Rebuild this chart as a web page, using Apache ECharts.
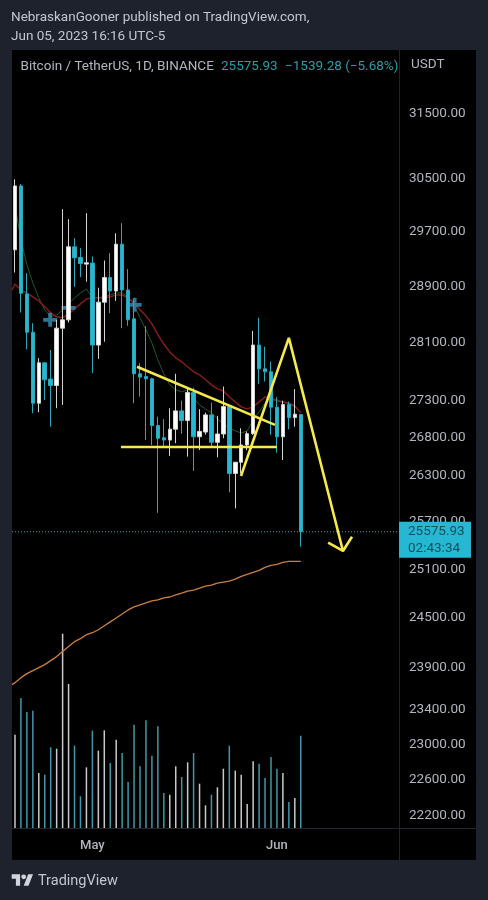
<!DOCTYPE html>
<html><head><meta charset="utf-8">
<style>html,body{margin:0;padding:0;background:#1e222d}#c{width:488px;height:900px}</style>
<script src="https://cdn.jsdelivr.net/npm/echarts@6/dist/echarts.min.js"></script>
</head><body><div id="c"></div>
<script>
const TICKS=[31500,30500,29700,28900,28100,27300,26800,26300,25700,25100,24500,23900,23400,23000,22600,22200];
const opens=[29437,30390,28796,28252,27269,27824,27599,27511,28309,28427,29481,29325,29228,29243,28072,28678,29033,28839,29520,28853,28441,27672,27635,27603,26967,26804,26773,26919,27165,27034,27414,26817,26880,27111,26743,26854,27223,26331,26478,26707,26858,28072,27741,27700,27215,26817,27250,27075,27115.21];
const closes=[30390,28806,28252,27269,27824,27589,27511,28309,28427,29481,29320,29237,29247,28072,28678,29033,28839,29520,28853,28427,27672,27627,27603,26967,26796,26773,26919,27165,27034,27414,26817,26888,27111,26743,26854,27223,26331,26478,26707,26858,28072,27741,27700,27215,26817,27250,27075,27120,25575.93];
const lows=[29106,28531,28013,27134,27147,27313,26953,27201,27246,28389,28900,29039,28973,27682,27879,28119,28522,28697,28309,28342,27269,27359,26773,26707,25819,26694,26561,26730,26858,26552,26364,26641,26845,26685,26544,26796,26084,25876,26331,26641,26841,27534,27566,26841,26605,26508,26918,26953,25386];
const highs=[30491,30420,29097,28380,27889,27830,28003,28427,30041,29891,29608,29462,29981,29339,28886,29281,29389,29681,29831,29155,28711,27820,28337,27617,27088,27053,27201,27672,27304,27479,27479,27188,27142,27277,27098,27497,27223,26482,26931,26888,28270,28456,28049,27842,27352,27304,27291,27462,27124];
const volumes=[28000,39000,34800,35200,16500,16000,24200,23800,58300,43200,24700,9500,18200,29200,23200,29300,19500,26500,22500,13800,31000,18500,32300,21700,30500,10500,10000,18500,15300,19700,22500,13300,6800,10000,12200,17800,24700,17200,16000,7200,20000,19300,15000,21300,17800,16500,7800,9000,27700];
const volumeUp=[1,0,0,0,1,0,0,1,1,1,0,0,1,0,1,1,0,1,0,0,0,0,0,0,0,0,1,1,0,1,0,1,1,0,1,1,0,1,1,1,1,0,0,0,0,1,0,1,0];
const emaRed=[28939,28853,28811,28754,28697,28612,28527,28470,28456,28512,28583,28654,28725,28740,28740,28740,28754,28782,28782,28740,28668,28569,28484,28370,28214,28086,27976,27893,27838,27769,27700,27658,27589,27520,27466,27438,27355,27287,27219,27192,27219,27287,27355,27341,27300,27287,27273,27233,27138];
const emaGreen=[30105,29583,29218,28955,28740,28569,28470,28498,28569,28654,28740,28811,28867,28740,28740,28754,28782,28811,28811,28754,28640,28456,28285,28100,27865,27672,27520,27451,27424,27451,27341,27246,27192,27138,27057,26990,26936,26895,26868,26895,27044,27152,27273,27314,27314,27287,27260,27219,27138];
const emaOrange=[23722,23781,23829,23864,23900,23936,23984,24032,24092,24152,24212,24248,24296,24320,24356,24404,24452,24500,24549,24598,24635,24659,24684,24708,24721,24745,24757,24782,24806,24831,24843,24867,24892,24904,24929,24941,24953,24978,25014,25039,25063,25088,25125,25150,25163,25188,25201,25201,25201];
const redEdge=28853, orangeEdge=23698;
const crosses=[[5.9,28427],[9,28597],[20.1,28640]];
const trendDown=[[20.5,27769],[43.67,26976]];
const trendFlat=[[17.8,26681],[44,26681]];
const zigzag=[[37.96,26297],[46,28172],[55.09,25332]];
const arrowHead=[[52.6,25437],[55.09,25332],[56.6,25513]];
const lastPrice=25575.93, countdown='02:43:34';
const dates=[];(function(){const d=new Date(Date.UTC(2023,3,18));for(let i=0;i<65;i++){dates.push(d.toISOString().slice(0,10));d.setUTCDate(d.getUTCDate()+1);}})();
const TEAL='#26b8d2',WHITE='#ffffff',TXT='#b2b5be',LN='#20242c',FONT='Roboto',YEL='#f7e94b';
const header1='NebraskanGooner published on TradingView.com,',header2='Jun 05, 2023 16:16 UTC-5';
const symbolText='Bitcoin / TetherUS, 1D, BINANCE',priceText='25575.93',changeText='\u22121539.28 (\u22125.68%)';

function txt(x,y,s,fill,size){return {type:'text',x,y,silent:true,z:20,style:{text:s,fill,font:size+'px '+FONT,verticalAlign:'middle'}};}
function withEdge(edge,arr){return [[-0.5,edge]].concat(arr.map((v,i)=>[i,v]));}
const chart=echarts.init(document.getElementById('c'),null,{renderer:'canvas'});
const GL=12,GW=387,GT=50,GB=828;
chart.setOption({
 animation:false,backgroundColor:'#1e222d',
 graphic:[
  {type:'rect',z:-10,silent:true,shape:{x:12,y:50,width:464,height:810},style:{fill:'#000000'}},
  {type:'line',z:-5,silent:true,shape:{x1:399.5,y1:50,x2:399.5,y2:860},style:{stroke:LN,lineWidth:1}},
  {type:'line',z:-5,silent:true,shape:{x1:12,y1:828.5,x2:476,y2:828.5},style:{stroke:LN,lineWidth:1}},
  txt(11,17.5,header1,'#c3c6ce',13.5),
  txt(11,36.5,header2,'#c3c6ce',13.5),
  txt(20.5,66.5,symbolText,TXT,13.5),
  txt(221,66.5,priceText,'#2f9aa8',13.5),
  txt(285,66.5,changeText,'#2f9aa8',13.5),
  txt(411,64.5,'USDT',TXT,13.5),
  {type:'polygon',silent:true,z:20,shape:{points:[[11.7,874.3],[20.1,874.3],[20.1,885.7],[15.9,885.7],[15.9,878.7],[11.7,878.7]]},style:{fill:'#d1d4dc'}},
  {type:'polygon',silent:true,z:20,shape:{points:[[28.2,874.3],[33,874.3],[28.5,885.7],[23.7,885.7]]},style:{fill:'#d1d4dc'}},
  {type:'circle',silent:true,z:20,shape:{cx:23.7,cy:876.8,r:2.4},style:{fill:'#d1d4dc'}},
  txt(38,881,'TradingView','#c3c6ce',14.5)
 ],
 grid:[{left:GL,width:GW,top:GT,height:GB-GT},{left:GL,width:GW,top:588,height:GB-588}],
 xAxis:[
  {type:'category',gridIndex:0,data:dates,boundaryGap:true,axisLine:{show:false},axisTick:{show:false},splitLine:{show:false},
   axisLabel:{show:true,margin:11,color:TXT,fontFamily:FONT,fontSize:13,fontWeight:500,
     interval:(i,v)=>v==='2023-05-01'||v==='2023-06-01',
     formatter:v=>v==='2023-05-01'?'May':v==='2023-06-01'?'Jun':''}},
  {type:'value',gridIndex:0,min:-0.5,max:64.5,show:false,splitLine:{show:false}},
  {type:'category',gridIndex:1,data:dates,show:false}
 ],
 yAxis:[
  {type:'log',gridIndex:0,logBase:10,min:22063,max:32522,position:'right',axisLine:{show:false},axisTick:{show:false},splitLine:{show:false},minorTick:{show:false},minorSplitLine:{show:false},
   axisLabel:{show:true,margin:10,color:TXT,fontFamily:FONT,fontSize:13.5,hideOverlap:false,padding:[3,0,0,0],
     customValues:TICKS,
     formatter:v=>Number(v).toFixed(2)}},
  {type:'value',gridIndex:1,min:0,max:72000,show:false,splitLine:{show:false}}
 ],
 series:[
  {type:'bar',name:'Volume',xAxisIndex:2,yAxisIndex:1,barWidth:1.5,z:1,
   data:volumes.map((v,i)=>({value:v,itemStyle:{color:volumeUp[i]?'#c9c9c9':'#3f98a8'}}))},
  {type:'line',name:'EMA long',data:withEdge(orangeEdge,emaOrange),xAxisIndex:1,yAxisIndex:0,showSymbol:false,z:2,lineStyle:{color:'#c9803f',width:1.3}},
  {type:'line',name:'EMA fast',data:emaGreen,xAxisIndex:0,yAxisIndex:0,showSymbol:false,z:2,lineStyle:{color:'#1c5a2a',width:1}},
  {type:'line',name:'EMA slow',data:withEdge(redEdge,emaRed),xAxisIndex:1,yAxisIndex:0,showSymbol:false,z:2,lineStyle:{color:'#8a1c1c',width:1.4}},
  {type:'scatter',name:'Cross',data:crosses,xAxisIndex:1,yAxisIndex:0,z:3,symbol:'path://M4,0h3v4h4v3h-4v4h-3v-4h-4v-3h4z',symbolSize:14,itemStyle:{color:'#3b8fb5'}},
  {type:'candlestick',name:'BTCUSDT',xAxisIndex:0,yAxisIndex:0,barWidth:4,z:5,
   data:opens.map((o,i)=>[o,closes[i],lows[i],highs[i]]),
   itemStyle:{color:WHITE,color0:TEAL,borderColor:'#d4d4d4',borderColor0:'#2aa6bd',borderWidth:1}},
  {type:'line',name:'Last',xAxisIndex:1,yAxisIndex:0,data:[[-0.5,lastPrice],[64.5,lastPrice]],showSymbol:false,z:6,
   lineStyle:{color:'#3aa0b0',width:1,type:[1,2]},
   endLabel:{show:true,distance:0,offset:[0,8],formatter:()=>lastPrice.toFixed(2)+'\n'+countdown,color:'#0f4f5c',backgroundColor:TEAL,fontFamily:FONT,fontSize:13.5,lineHeight:17,padding:[1,5,1,9],width:58}},
  {type:'line',name:'Trend',xAxisIndex:1,yAxisIndex:0,data:trendDown,showSymbol:false,z:8,lineStyle:{color:YEL,width:2.6}},
  {type:'line',name:'Support',xAxisIndex:1,yAxisIndex:0,data:trendFlat,showSymbol:false,z:8,lineStyle:{color:YEL,width:2.6}},
  {type:'line',name:'Zigzag',xAxisIndex:1,yAxisIndex:0,data:zigzag,showSymbol:false,z:8,lineStyle:{color:YEL,width:2.6}},
  {type:'line',name:'Arrow',xAxisIndex:1,yAxisIndex:0,data:arrowHead,showSymbol:false,z:8,lineStyle:{color:YEL,width:2.6}}
 ]
});
</script></body></html>
